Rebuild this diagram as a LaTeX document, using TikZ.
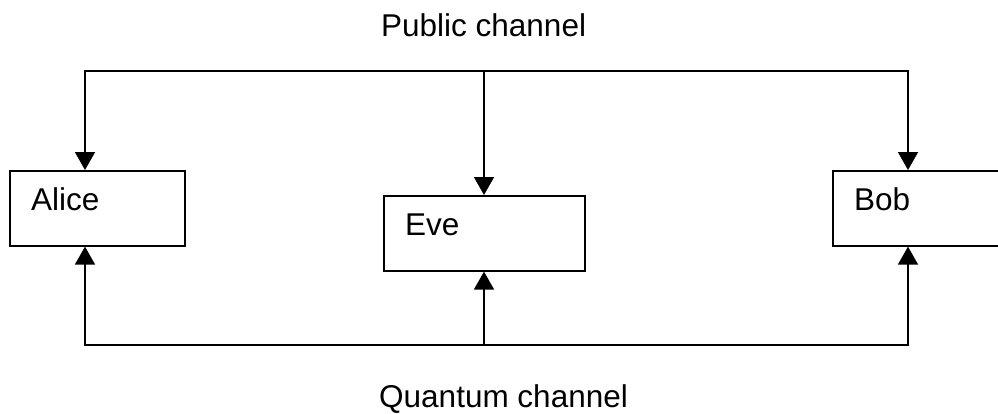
\documentclass[tikz,border=0pt]{standalone}
\usepackage{fontspec}
\setmainfont{Liberation Sans}
\usetikzlibrary{arrows.meta}
\tikzset{
  box/.style={draw, line width=1.6pt, rectangle, anchor=north west, inner sep=0pt},
  lbl/.style={anchor=base west, inner sep=0pt, font=\fontsize{31.5}{37}\selectfont},
  wire/.style={line width=1.6pt},
  tip/.style={-{Triangle[width=20pt,length=18pt]}},
  tips/.style={{Triangle[width=20pt,length=18pt]}-{Triangle[width=20pt,length=18pt]}}
}
\begin{document}
\begin{tikzpicture}[x=1pt,y=-1pt]
\useasboundingbox (0,0) rectangle (998,413);
\node[box, minimum width=175pt, minimum height=75pt] (alice) at (9,170) {};
\node[box, minimum width=201pt, minimum height=75pt] (eve) at (383,195) {};
\node[box, minimum width=200pt, minimum height=75pt] (bob) at (832,170) {};
\node[lbl] (alicet) at (31,210) {Alice};
\node[lbl] (evet) at (405,235) {Eve};
\node[lbl] (bobt) at (854,210) {Bob};
\node[lbl] (pubt) at (381,36) {Public channel};
\node[lbl] (quant) at (379,407) {Quantum channel};
\coordinate (pa) at (85,71);
\coordinate (pe) at (484,71);
\coordinate (pb) at (908,71);
\coordinate (qa) at (85,345);
\coordinate (qe) at (484,345);
\coordinate (qb) at (908,345);
\draw[wire,tips] (pa |- alice.north) -- (pa) -- (pb) -- (pb |- bob.north);
\draw[wire,tip] (pe) -- (pe |- eve.north);
\draw[wire,tips] (qa |- alice.south) -- (qa) -- (qb) -- (qb |- bob.south);
\draw[wire,tip] (qe) -- (qe |- eve.south);
\end{tikzpicture}
\end{document}
